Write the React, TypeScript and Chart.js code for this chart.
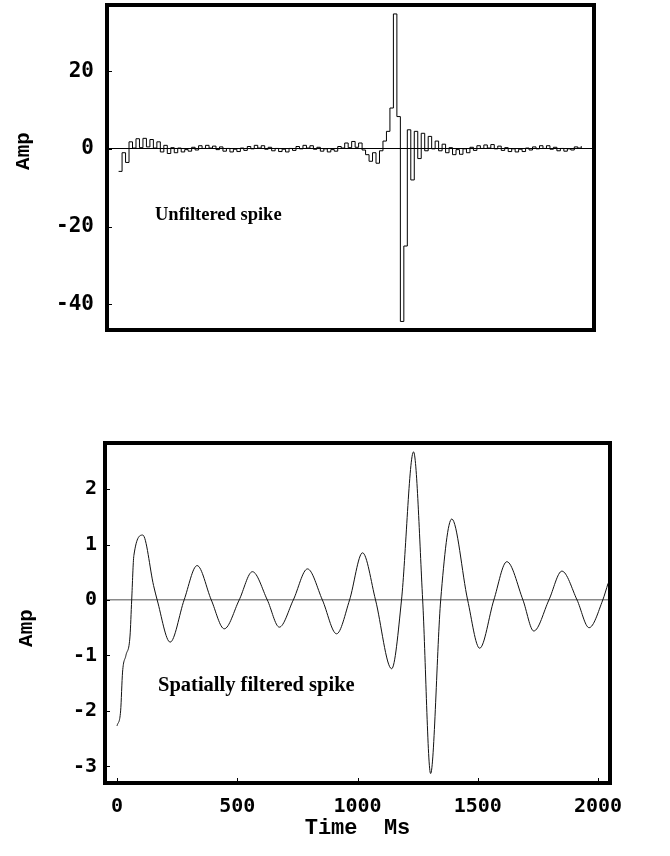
import React, { useEffect, useRef } from 'react';
import { Chart, registerables } from 'chart.js';

Chart.register(...registerables);

// ---------- data ----------
// Top panel: unfiltered spike, sampled every TOP_SAMPLE_MS (stepped trace)
const TOP_SAMPLE_MS = 15;
const topAmp: number[] = [
  -5.8, -1.0, -3.5, 1.8, 0.2, 2.6, 0.3, 2.7, 0.5, 2.4,
  0.2, 1.8, -0.8, 0.9, -1.2, 0.3, -1.0, 0.2, -0.8, -0.2,
  -0.6, 0.4, -0.3, 0.8, 0.1, 0.9, 0.2, 0.7, -0.2, 0.5,
  -0.6, 0.1, -0.8, -0.1, -0.7, 0.2, -0.4, 0.6, 0.0, 0.9,
  0.2, 0.8, -0.1, 0.4, -0.5, 0.1, -0.7, -0.1, -0.8, 0.1,
  -0.4, 0.6, 0.0, 0.9, 0.2, 0.8, -0.1, 0.4, -0.6, 0.0,
  -0.8, -0.2, -0.6, 0.6, 0.2, 1.5, 0.3, 1.9, 0.4, 1.5,
  -0.3, -1.5, -3.2, -1.0, -3.7, -0.5, 2.0, 4.5, 10.5, 34.7,
  8.3, -44.4, -25.0, 4.9, -8.0, 4.5, -2.5, 4.0, -0.5, 3.2,
  0.0, 2.0, -0.5, 1.2, -1.0, 0.3, -1.5, -0.2, -1.4, 0.0,
  -1.0, 0.4, -0.4, 0.8, 0.1, 1.0, 0.2, 1.1, 0.0, 0.7,
  -0.4, 0.3, -0.7, 0.0, -0.8, -0.1, -0.7, 0.2, -0.3, 0.5,
  0.0, 0.8, 0.1, 0.8, -0.1, 0.4, -0.5, 0.1, -0.6, 0.0,
  -0.3, 0.5, 0.2, 0.7,
];

// Bottom panel: spatially filtered spike (time in ms, amplitude)
const bottomTimes: number[] = [
  0, 15, 23, 37, 54, 61, 70, 107, 152,
  167, 221, 279, 333, 392, 446, 508, 563, 625, 675,
  733, 792, 854, 913, 967, 1021, 1075, 1142, 1183, 1233,
  1271, 1304, 1346, 1392, 1458, 1508, 1567, 1621, 1688, 1733,
  1796, 1850, 1913, 1963, 2020, 2042,
];
const bottomAmp: number[] = [
  -2.27, -2.0, -1.3, -1.0, -0.65, 0, 0.8, 1.17, 0.26,
  0, -0.76, 0, 0.62, 0, -0.52, 0, 0.51, 0, -0.49,
  0, 0.56, 0, -0.61, 0, 0.85, 0, -1.24, 0, 2.67,
  0, -3.13, 0, 1.46, 0, -0.87, 0, 0.69, 0, -0.56,
  0, 0.52, 0, -0.5, 0, 0.3,
];

const xTickValues: number[] = [0, 500, 1000, 1500, 2000];
const topYTicks: number[] = [-40, -20, 0, 20];
const bottomYTicks: number[] = [-3, -2, -1, 0, 1, 2];

const X_MIN = -50;
const X_MAX = 2050;
const TOP_Y_MIN = -46.6;
const TOP_Y_MAX = 37;
const BOT_Y_MIN = -3.3;
const BOT_Y_MAX = 2.83;

// ---------- plugin: heavy frame, inner ticks, caption, rotated y title ----------
const framePlugin = {
  id: 'frame',
  afterDraw(chart: any, _args: any, opts: any) {
    const { ctx, chartArea: a } = chart;
    ctx.save();
    ctx.strokeStyle = '#000';
    ctx.lineWidth = 1;
    const ys = chart.scales.y;
    ys.ticks.forEach((t: any) => {
      const p = Math.round(ys.getPixelForValue(t.value)) + 0.5;
      ctx.beginPath();
      ctx.moveTo(a.left, p);
      ctx.lineTo(a.left + 5, p);
      ctx.stroke();
    });
    if (opts.xTicks) {
      const xs = chart.scales.x;
      xs.ticks.forEach((t: any) => {
        const p = Math.round(xs.getPixelForValue(t.value)) + 0.5;
        ctx.beginPath();
        ctx.moveTo(p, a.bottom);
        ctx.lineTo(p, a.bottom - 5);
        ctx.stroke();
      });
    }
    ctx.lineWidth = 4;
    ctx.strokeRect(a.left, a.top, a.right - a.left, a.bottom - a.top);
    ctx.fillStyle = '#000';
    // caption inside the frame
    ctx.font = opts.font;
    ctx.textBaseline = 'middle';
    ctx.textAlign = 'left';
    ctx.fillText(opts.text, a.left + opts.dx, a.top + opts.dy);
    // rotated y-axis title
    ctx.font = 'bold 21px "Liberation Mono", monospace';
    ctx.textAlign = 'center';
    ctx.translate(opts.titleX, a.top + opts.titleDy);
    ctx.rotate(-Math.PI / 2);
    ctx.fillText(opts.yTitle, 0, 0);
    ctx.restore();
  },
};

const fmt = (v: any) => String(v);
const noPad = (s: any) => {
  s.paddingTop = 0;
  s.paddingBottom = 0;
  s.paddingLeft = 0;
  s.paddingRight = 0;
};

function TopChart() {
  const ref = useRef<HTMLCanvasElement | null>(null);
  useEffect(() => {
    if (!ref.current) return;
    const pts = topAmp.map((v, i) => ({ x: i * TOP_SAMPLE_MS, y: v }));
    const chart = new Chart(ref.current, {
      type: 'line',
      data: {
        datasets: [
          {
            data: pts,
            borderColor: '#000',
            borderWidth: 1,
            pointRadius: 0,
            stepped: true,
            fill: false,
          },
        ],
      },
      options: {
        animation: false,
        responsive: false,
        devicePixelRatio: 1,
        events: [],
        layout: { padding: { top: 5, right: 76, bottom: 15, left: 0 } },
        plugins: {
          legend: { display: false },
          tooltip: { enabled: false },
          frame: {
            text: 'Unfiltered spike',
            font: 'bold 18.5px "Liberation Serif", serif',
            dx: 48,
            dy: 210,
            yTitle: 'Amp',
            titleX: 24,
            titleDy: 146,
          },
        } as any,
        scales: {
          x: {
            type: 'linear',
            display: false,
            min: X_MIN,
            max: X_MAX,
          },
          y: {
            type: 'linear',
            min: TOP_Y_MIN,
            max: TOP_Y_MAX,
            afterFit: (s: any) => {
              s.width = 107;
              noPad(s);
            },
            afterBuildTicks: (s: any) => {
              s.ticks = topYTicks.map((v) => ({ value: v }));
            },
            border: { display: false },
            grid: {
              drawTicks: false,
              lineWidth: 1,
              color: (c: any) => (c.tick && c.tick.value === 0 ? '#000' : 'rgba(0,0,0,0)'),
            },
            ticks: {
              padding: 13,
              color: '#000',
              font: { family: '"DejaVu Sans Mono", monospace', weight: 'bold', size: 21 },
              callback: fmt,
            },
          },
        },
      },
      plugins: [framePlugin],
    } as any);
    return () => chart.destroy();
  }, []);
  return (
    <canvas
      ref={ref}
      width={670}
      height={345}
      style={{ position: 'absolute', left: 0, top: 0, width: 670, height: 345 }}
    />
  );
}

function BottomChart() {
  const ref = useRef<HTMLCanvasElement | null>(null);
  useEffect(() => {
    if (!ref.current) return;
    const pts = bottomTimes.map((t, i) => ({ x: t, y: bottomAmp[i] }));
    const chart = new Chart(ref.current, {
      type: 'line',
      data: {
        datasets: [
          {
            data: pts,
            borderColor: '#111',
            borderWidth: 1,
            pointRadius: 0,
            cubicInterpolationMode: 'monotone',
            tension: 0.4,
            fill: false,
          },
        ],
      },
      options: {
        animation: false,
        responsive: false,
        devicePixelRatio: 1,
        events: [],
        layout: { padding: { top: 23, right: 60, bottom: 0, left: 0 } },
        plugins: {
          legend: { display: false },
          tooltip: { enabled: false },
          frame: {
            xTicks: true,
            text: 'Spatially filtered spike',
            font: 'bold 20.5px "Liberation Serif", serif',
            dx: 53,
            dy: 243,
            yTitle: 'Amp',
            titleX: 27,
            titleDy: 185,
          },
        } as any,
        scales: {
          x: {
            type: 'linear',
            min: X_MIN,
            max: X_MAX,
            afterFit: (s: any) => {
              s.height = 73;
              noPad(s);
            },
            afterBuildTicks: (s: any) => {
              s.ticks = xTickValues.map((v) => ({ value: v }));
            },
            border: { display: false },
            grid: { drawTicks: false, color: 'rgba(0,0,0,0)' },
            ticks: {
              padding: 12,
              color: '#000',
              maxRotation: 0,
              font: { family: '"DejaVu Sans Mono", monospace', weight: 'bold', size: 20 },
              callback: fmt,
            },
            title: {
              display: true,
              text: 'Time  Ms',
              color: '#000',
              padding: { top: 0, bottom: 14 },
              font: { family: '"Liberation Mono", monospace', weight: 'bold', size: 22 },
            },
          },
          y: {
            type: 'linear',
            min: BOT_Y_MIN,
            max: BOT_Y_MAX,
            afterFit: (s: any) => {
              s.width = 105;
              noPad(s);
            },
            afterBuildTicks: (s: any) => {
              s.ticks = bottomYTicks.map((v) => ({ value: v }));
            },
            border: { display: false },
            grid: {
              drawTicks: false,
              lineWidth: 1.5,
              color: (c: any) => (c.tick && c.tick.value === 0 ? '#8a8a8a' : 'rgba(0,0,0,0)'),
            },
            ticks: {
              padding: 8,
              color: '#000',
              font: { family: '"DejaVu Sans Mono", monospace', weight: 'bold', size: 20 },
              callback: fmt,
            },
          },
        },
      },
      plugins: [framePlugin],
    } as any);
    return () => chart.destroy();
  }, []);
  return (
    <canvas
      ref={ref}
      width={670}
      height={436}
      style={{ position: 'absolute', left: 0, top: 420, width: 670, height: 436 }}
    />
  );
}

export default function App() {
  return (
    <div
      style={{
        position: 'absolute',
        left: 0,
        top: 0,
        width: 670,
        height: 856,
        background: '#fff',
        overflow: 'hidden',
      }}
    >
      <TopChart />
      <BottomChart />
    </div>
  );
}
